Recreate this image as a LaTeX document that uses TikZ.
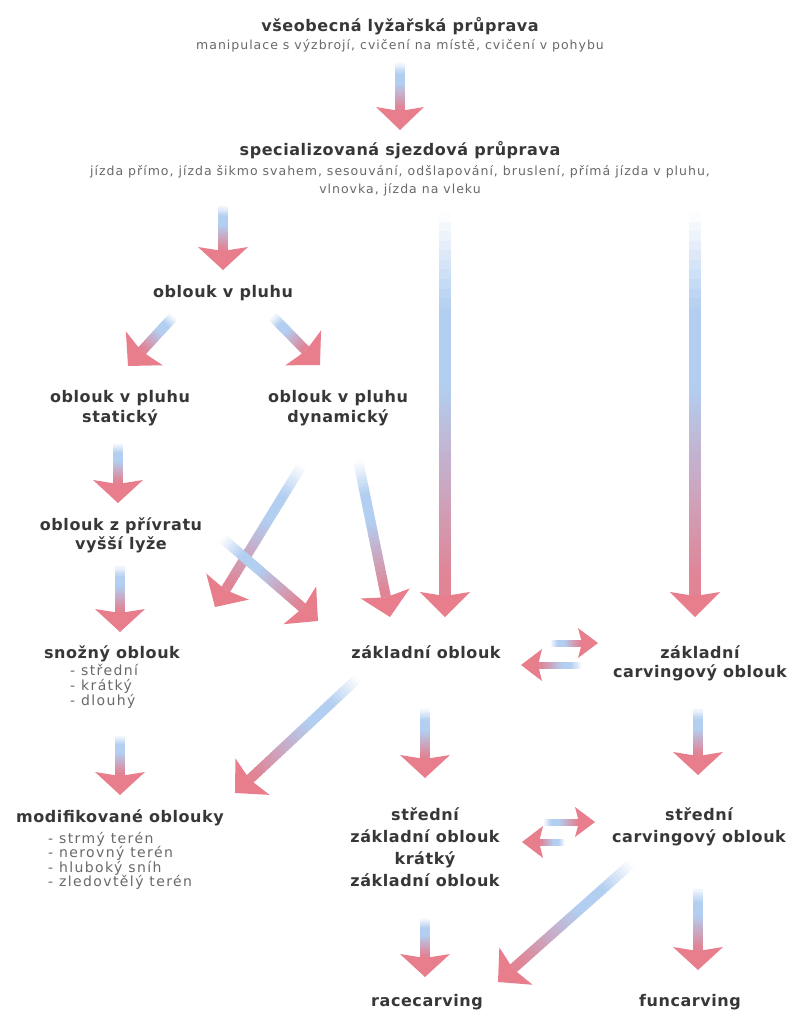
\documentclass[tikz,border=0pt]{standalone}
\usepackage{fontspec}
\setmainfont{DejaVu Sans}
\newfontfamily\bfnt[LetterSpace=3.5]{DejaVu Sans}
\newfontfamily\smfnt[LetterSpace=8]{DejaVu Sans}
\newfontfamily\lsfnt[LetterSpace=10]{DejaVu Sans}
\definecolor{tcol}{RGB}{55,55,55}
\definecolor{scol}{RGB}{105,105,105}
\definecolor{arrB}{RGB}{178,206,240}
\definecolor{arrP}{RGB}{224,132,150}
\definecolor{arrH}{RGB}{232,126,140}
\tikzset{
  ttl/.style={font=\bfnt\bfseries\fontsize{16}{18}\selectfont, text=tcol, inner sep=0pt, anchor=base},
  sub/.style={font=\smfnt\fontsize{12.5}{15}\selectfont, text=scol, inner sep=0pt, anchor=base},
  lst/.style={font=\lsfnt\fontsize{14}{16}\selectfont, text=scol, inner sep=0pt, anchor=base west},
}
% fading arrow: from, to, shaft half width, head half width, head length
\newcommand\farrow[5]{%
  \pgfpointanchor{#1}{center}\pgfgetlastxy{\FXa}{\FYa}%
  \pgfpointanchor{#2}{center}\pgfgetlastxy{\FXb}{\FYb}%
  \pgfmathsetmacro\FA{atan2(\FYb-\FYa,\FXb-\FXa)}%
  \pgfmathsetmacro\FL{veclen(\FXb-\FXa,\FYb-\FYa)}%
  \pgfmathsetmacro\FS{\FL-#5+3}%
  \begin{scope}[shift={(\FXa,\FYa)},rotate=\FA,x=1pt,y=1pt]
    \foreach \i in {0,...,39}{%
      \pgfmathsetmacro\sega{\i/40*\FS}%
      \pgfmathsetmacro\segb{(\i+1)/40*\FS+0.8}%
      \pgfmathsetmacro\segm{(\i+0.5)/40}%
      \pgfmathtruncatemacro\wpc{min(100,\segm/0.25*100)}%
      \pgfmathtruncatemacro\ppc{max(0,min(100,(\segm-0.45)/0.5*100))}%
      \colorlet{mixA}{arrP!\ppc!arrB}%
      \colorlet{segc}{mixA!\wpc!white}%
      \fill[segc] (\sega,-#3) rectangle (\segb,#3);
    }
    \fill[arrH] (\FL,0) -- (\FL-#5,#4) -- (\FL-#5+4,0) -- (\FL-#5,-#4) -- cycle;
  \end{scope}
}
\begin{document}
\begin{tikzpicture}[x=1pt,y=-1pt]
\fill[white] (0,0) rectangle (791,1012);
\useasboundingbox (0,0) rectangle (791,1012);

% arrow end points
\coordinate (a1s) at (400,62);  \coordinate (a1e) at (400,130);
\coordinate (a2s) at (223,205); \coordinate (a2e) at (223,270);
\coordinate (a3s) at (174,316); \coordinate (a3e) at (128,366);
\coordinate (a4s) at (272,316); \coordinate (a4e) at (320,365);
\coordinate (a5s) at (445,212); \coordinate (a5e) at (445,617);
\coordinate (a6s) at (695,212); \coordinate (a6e) at (695,617);
\coordinate (a7s) at (118,443); \coordinate (a7e) at (118,503);
\coordinate (a8s) at (120,565); \coordinate (a8e) at (120,632);
\coordinate (a9s) at (120,735); \coordinate (a9e) at (120,795);
\coordinate (a10s) at (302,465); \coordinate (a10e) at (215,607);
\coordinate (a11s) at (358,460); \coordinate (a11e) at (390,617);
\coordinate (a12s) at (222,538); \coordinate (a12e) at (318,621);
\coordinate (a13s) at (550,643); \coordinate (a13e) at (598,643);
\coordinate (a13bs) at (582,665); \coordinate (a13be) at (521,665);
\coordinate (a14s) at (358,678); \coordinate (a14e) at (235,793);
\coordinate (a15s) at (425,708); \coordinate (a15e) at (425,778);
\coordinate (a16s) at (698,708); \coordinate (a16e) at (698,775);
\coordinate (a17s) at (543,822); \coordinate (a17e) at (595,822);
\coordinate (a17bs) at (565,842); \coordinate (a17be) at (522,842);
\coordinate (a18s) at (425,918); \coordinate (a18e) at (425,977);
\coordinate (a19s) at (632,863); \coordinate (a19e) at (498,982);
\coordinate (a20s) at (698,887); \coordinate (a20e) at (698,970);

\farrow{a1s}{a1e}{5}{24}{23}
\farrow{a2s}{a2e}{5}{25}{23}
\farrow{a3s}{a3e}{5}{25}{24}
\farrow{a4s}{a4e}{5}{25}{24}
\farrow{a5s}{a5e}{6}{25}{25}
\farrow{a6s}{a6e}{6}{25}{25}
\farrow{a7s}{a7e}{5}{25}{23}
\farrow{a8s}{a8e}{5}{25}{23}
\farrow{a9s}{a9e}{5}{25}{23}
\farrow{a10s}{a10e}{5}{25}{24}
\farrow{a11s}{a11e}{5}{25}{24}
\farrow{a12s}{a12e}{5}{25}{24}
\farrow{a13s}{a13e}{3.5}{15}{20}
\farrow{a13bs}{a13be}{3.5}{16}{21}
\farrow{a14s}{a14e}{5}{25}{24}
\farrow{a15s}{a15e}{5}{25}{23}
\farrow{a16s}{a16e}{5}{25}{23}
\farrow{a17s}{a17e}{3.5}{15}{20}
\farrow{a17bs}{a17be}{3.5}{16}{21}
\farrow{a18s}{a18e}{5}{25}{23}
\farrow{a19s}{a19e}{5}{25}{24}
\farrow{a20s}{a20e}{5}{25}{23}

% texts
\node[ttl] (t1) at (400,31) {všeobecná lyžařská průprava};
\node[sub] (t1s) at (400,49) {manipulace s výzbrojí, cvičení na místě, cvičení v pohybu};
\node[ttl] (t2) at (400,155) {specializovaná sjezdová průprava};
\node[sub] (t2s) at (400,175) {jízda přímo, jízda šikmo svahem, sesouvání, odšlapování, bruslení, přímá jízda v pluhu,};
\node[sub] (t2t) at (400,193) {vlnovka, jízda na vleku};
\node[ttl] (t3) at (223,297) {oblouk v pluhu};
\node[ttl] (t4) at (120,402) {oblouk v pluhu};
\node[ttl] (t4b) at (120,422) {statický};
\node[ttl] (t5) at (338,402) {oblouk v pluhu};
\node[ttl] (t5b) at (338,422) {dynamický};
\node[ttl] (t6) at (121,530) {oblouk z přívratu};
\node[ttl] (t6b) at (121,549) {vyšší lyže};
\node[ttl] (t7) at (112,658) {snožný oblouk};
\node[lst] (t7a) at (70,675) {- střední};
\node[lst] (t7b) at (70,690) {- krátký};
\node[lst] (t7c) at (70,705) {- dlouhý};
\node[ttl] (t8) at (120,822) {modifikované oblouky};
\node[lst] (t8a) at (48,843) {- strmý terén};
\node[lst] (t8b) at (48,857.5) {- nerovný terén};
\node[lst] (t8c) at (48,872) {- hluboký sníh};
\node[lst] (t8d) at (48,886.5) {- zledovtělý terén};
\node[ttl] (t9) at (426,658) {základní oblouk};
\node[ttl] (t10) at (700,658) {základní};
\node[ttl] (t10b) at (700,677) {carvingový oblouk};
\node[ttl] (t11) at (425,820) {střední};
\node[ttl] (t11b) at (425,842) {základní oblouk};
\node[ttl] (t11c) at (425,864) {krátký};
\node[ttl] (t11d) at (425,886) {základní oblouk};
\node[ttl] (t12) at (699,820) {střední};
\node[ttl] (t12b) at (699,842) {carvingový oblouk};
\node[ttl] (t13) at (427,1006) {racecarving};
\node[ttl] (t14) at (690,1006) {funcarving};
\end{tikzpicture}
\end{document}
